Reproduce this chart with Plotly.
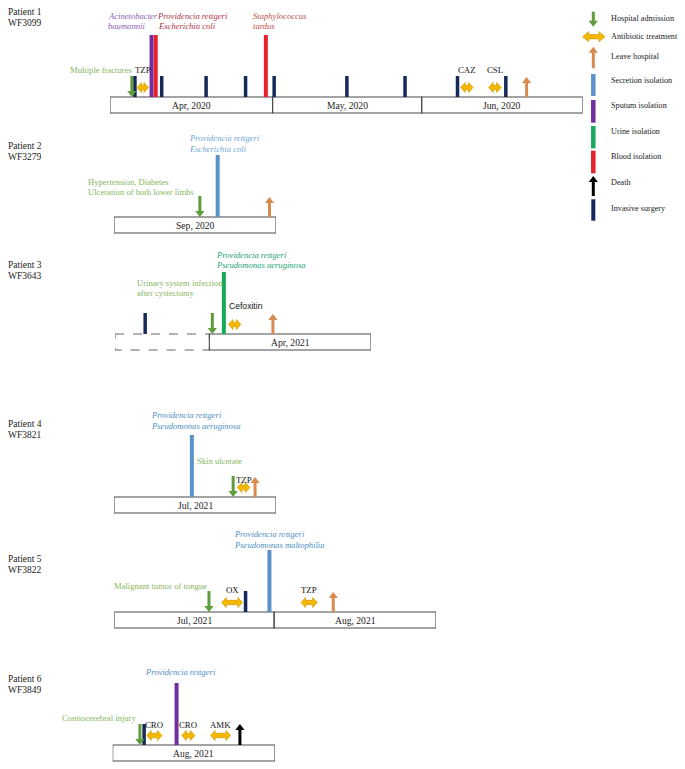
import plotly.graph_objects as go

W, H = 685, 769

# ---------------- data (days counted from the start of each patient's first solid month box) ----------------
patient_names = ["Patient 1", "Patient 2", "Patient 3", "Patient 4", "Patient 5", "Patient 6"]
patient_ids = ["WF3099", "WF3279", "WF3643", "WF3821", "WF3822", "WF3849"]

p1_months = ["Apr, 2020", "May, 2020", "Jun, 2020"]
p1_edges = [0, 31.3, 60.0, 91]
p1_admission = [4.2]
p1_leave = [80.2]
p1_death = []
p1_secretion = []
p1_sputum = [8.0]
p1_urine = []
p1_blood = [8.8, 30.0]
p1_surgery = [4.8, 9.95, 18.5, 26.1, 31.6, 45.6, 56.8, 66.9, 76.2]
p1_abx = ["TZP", "CAZ", "CSL"]
p1_abx_start = [5.2, 67.5, 72.9]
p1_abx_end = [7.4, 69.9, 75.3]

p2_months = ["Sep, 2020"]
p2_edges = [0, 30]
p2_admission = [15.9]
p2_leave = [28.8]
p2_death = []
p2_secretion = [19.2]
p2_sputum = []
p2_urine = []
p2_blood = []
p2_surgery = []
p2_abx = []
p2_abx_start = []
p2_abx_end = []

p3_months = ["", "Apr, 2021"]          # first box (dashed) = period before admission month
p3_edges = [-17.5, 0, 30]
p3_admission = [0.56]
p3_leave = [11.8]
p3_death = []
p3_secretion = []
p3_sputum = []
p3_urine = [2.7]
p3_blood = []
p3_surgery = [-11.9]
p3_abx = ["Cefoxitin"]
p3_abx_start = [3.55]
p3_abx_end = [5.85]

p4_months = ["Jul, 2021"]
p4_edges = [0, 31]
p4_admission = [22.8]
p4_leave = [27.0]
p4_death = []
p4_secretion = [14.9]
p4_sputum = []
p4_urine = []
p4_blood = []
p4_surgery = []
p4_abx = ["TZP"]
p4_abx_start = [23.6]
p4_abx_end = [26.0]

p5_months = ["Jul, 2021", "Aug, 2021"]
p5_edges = [0, 30.8, 62]
p5_admission = [18.25]
p5_leave = [42.2]
p5_death = []
p5_secretion = [29.9]
p5_sputum = []
p5_urine = []
p5_blood = []
p5_surgery = [25.3]
p5_abx = ["OX", "TZP"]
p5_abx_start = [20.7, 36.0]
p5_abx_end = [24.7, 39.1]

p6_months = ["Aug, 2021"]
p6_edges = [0, 31]
p6_admission = [5.2]
p6_leave = []
p6_death = [24.3]
p6_secretion = []
p6_sputum = [12.2]
p6_urine = []
p6_blood = []
p6_surgery = [6.0]
p6_abx = ["CRO", "CRO", "AMK"]
p6_abx_start = [6.5, 13.2, 18.7]
p6_abx_end = [9.4, 15.7, 22.5]

legend_labels = ["Hospital admission", "Antibiotic treatment", "Leave hospital", "Secretion isolation",
                 "Sputum isolation", "Urine isolation", "Blood isolation", "Death", "Invasive surgery"]

# ---------------- styles ----------------
C_ADM = "#5E9C3C"
C_ABX = "#F4B800"
C_ABX_EDGE = "#D49A00"
C_LEAVE = "#D88A50"
C_SEC = "#5B93C9"
C_SPU = "#7030A0"
C_URI = "#18A85A"
C_BLOOD = "#E8202A"
C_DEATH = "#000000"
C_SURG = "#14285A"
C_DIS = "#86B65E"
SERIF = "Liberation Serif"
SANS = "Liberation Sans"
BOX_H = 16
TALL = 62
SHORT = 21

rows = [
    dict(top=97, px=(110, 582.7), months=p1_months, edges=p1_edges, adm=p1_admission, leave=p1_leave, death=p1_death,
         sec=p1_secretion, spu=p1_sputum, uri=p1_urine, blood=p1_blood, surg=p1_surgery,
         abx=p1_abx, abx_s=p1_abx_start, abx_e=p1_abx_end, abx_dy=27, label_y=12),
    dict(top=217, px=(114, 276), months=p2_months, edges=p2_edges, adm=p2_admission, leave=p2_leave, death=p2_death,
         sec=p2_secretion, spu=p2_sputum, uri=p2_urine, blood=p2_blood, surg=p2_surgery,
         abx=p2_abx, abx_s=p2_abx_start, abx_e=p2_abx_end, abx_dy=20, label_y=146),
    dict(top=334, px=(115, 371), months=p3_months, edges=p3_edges, adm=p3_admission, leave=p3_leave, death=p3_death,
         sec=p3_secretion, spu=p3_sputum, uri=p3_urine, blood=p3_blood, surg=p3_surgery,
         abx=p3_abx, abx_s=p3_abx_start, abx_e=p3_abx_end, abx_dy=28, label_y=265, dashed_first=True),
    dict(top=497, px=(114, 276), months=p4_months, edges=p4_edges, adm=p4_admission, leave=p4_leave, death=p4_death,
         sec=p4_secretion, spu=p4_sputum, uri=p4_urine, blood=p4_blood, surg=p4_surgery,
         abx=p4_abx, abx_s=p4_abx_start, abx_e=p4_abx_end, abx_dy=17, label_y=424),
    dict(top=612, px=(114.3, 436), months=p5_months, edges=p5_edges, adm=p5_admission, leave=p5_leave, death=p5_death,
         sec=p5_secretion, spu=p5_sputum, uri=p5_urine, blood=p5_blood, surg=p5_surgery,
         abx=p5_abx, abx_s=p5_abx_start, abx_e=p5_abx_end, abx_dy=22, label_y=559),
    dict(top=745, px=(112.7, 275), months=p6_months, edges=p6_edges, adm=p6_admission, leave=p6_leave, death=p6_death,
         sec=p6_secretion, spu=p6_sputum, uri=p6_urine, blood=p6_blood, surg=p6_surgery,
         abx=p6_abx, abx_s=p6_abx_start, abx_e=p6_abx_end, abx_dy=20, label_y=679),
]

fig = go.Figure()
annotations = []


def add_line(xa, xs, ys, color, width):
    fig.add_trace(go.Scatter(x=xs, y=ys, xaxis=xa, yaxis="y", mode="lines", cliponaxis=False,
                             line=dict(color=color, width=width), hoverinfo="skip", showlegend=False))


def add_marker(xa, xs, ys, symbol, size, color):
    fig.add_trace(go.Scatter(x=xs, y=ys, xaxis=xa, yaxis="y", mode="markers", cliponaxis=False,
                             marker=dict(symbol=symbol, size=size, color=color, line=dict(width=0)),
                             hoverinfo="skip", showlegend=False))


def vbars(xa, days, y_top, y_bot, color, width):
    if not days:
        return
    xs, ys = [], []
    for d in days:
        xs += [d, d, None]
        ys += [y_top, y_bot, None]
    add_line(xa, xs, ys, color, width)


def down_arrows(xa, days, tip_y, length, color):
    if not days:
        return
    vbars(xa, days, tip_y - length, tip_y - 5, color, 3)
    add_marker(xa, days, [tip_y - 4] * len(days), "triangle-down", 8, color)


def up_arrows(xa, days, base_y, length, color):
    if not days:
        return
    vbars(xa, days, base_y - length + 5, base_y, color, 3)
    add_marker(xa, days, [base_y - length + 4] * len(days), "triangle-up", 8, color)


def dbl_arrow(xref, s, e, y, k, head_px=4.5, half_h=5.0, half_shaft=2.2):
    """Double-headed arrow drawn as a filled path in the axis' own units (x = days, y = px)."""
    hw = min(head_px / k, (e - s) / 2)
    a, b = s + hw, e - hw
    pts = [(s, y), (a, y - half_h), (a, y - half_shaft), (b, y - half_shaft), (b, y - half_h), (e, y),
           (b, y + half_h), (b, y + half_shaft), (a, y + half_shaft), (a, y + half_h)]
    path = "M " + " L ".join(f"{px:.4f},{py:.2f}" for px, py in pts) + " Z"
    fig.add_shape(type="path", xref=xref, yref="y", path=path, fillcolor=C_ABX,
                  line=dict(color=C_ABX_EDGE, width=0.7), layer="above")


def text(t, x, y, size=8.6, color="#222", anchor="left", family=SERIF, xref="x"):
    annotations.append(dict(text=t, x=x, y=y, xref=xref, yref="y", showarrow=False,
                            xanchor=anchor, yanchor="middle", borderpad=0,
                            font=dict(family=family, size=size, color=color)))


axes = {}
for i, r in enumerate(rows):
    n = i + 2
    xa = f"x{n}"
    px0, px1 = r["px"]
    e = r["edges"]
    axes[f"xaxis{n}"] = dict(domain=[px0 / W, px1 / W], range=[e[0], e[-1]], visible=False,
                             anchor="y", fixedrange=True)
    k = (px1 - px0) / (e[-1] - e[0])
    top = r["top"]

    # month boxes
    for j, lab in enumerate(r["months"]):
        dashed = r.get("dashed_first", False) and j == 0
        fig.add_shape(type="rect", xref=xa, yref="y", x0=e[j], x1=e[j + 1], y0=top, y1=top + BOX_H,
                      line=dict(color="#666" if dashed else "#4a4a4a", width=1.1, dash="dash" if dashed else "solid"),
                      fillcolor="rgba(0,0,0,0)", layer="below")
        if lab:
            text(lab, (e[j] + e[j + 1]) / 2, top + BOX_H / 2 + 0.5, size=9.6, anchor="center", xref=xa)

    # events
    vbars(xa, r["sec"], top - TALL, top, C_SEC, 4)
    vbars(xa, r["spu"], top - TALL, top, C_SPU, 4)
    vbars(xa, r["uri"], top - TALL, top, C_URI, 4)
    vbars(xa, r["blood"], top - TALL, top, C_BLOOD, 4)
    vbars(xa, r["surg"], top - SHORT, top, C_SURG, 3.5)
    down_arrows(xa, r["adm"], top, SHORT, C_ADM)
    up_arrows(xa, r["leave"], top, SHORT - 1, C_LEAVE)
    up_arrows(xa, r["death"], top, SHORT, C_DEATH)
    for name, s, en in zip(r["abx"], r["abx_s"], r["abx_e"]):
        dbl_arrow(xa, s, en, top - 9.5, k)
        if name == "Cefoxitin":
            text(name, s, top - r["abx_dy"], size=8.6, anchor="left", family=SANS, color="#111", xref=xa)
        else:
            text(name, (s + en) / 2, top - r["abx_dy"], size=8.8, anchor="center", color="#111", xref=xa)

    # patient labels
    text(patient_names[i], 7, r["label_y"], size=9.5)
    text(patient_ids[i], 7, r["label_y"] + 10.5, size=9.5)

# species / diagnosis labels (placed in pixel coordinates)
PUR_T = "#8A5CB4"
RED_T = "#B3323F"
RED2_T = "#C0504D"
BLUE_T = "#4E8EC4"
BLUE2_T = "#72A6D4"
TEAL_T = "#22A374"

text("<i>Acinetobacter</i>", 107, 15.7, color=PUR_T)
text("<i>baumannii</i>", 107, 25.5, color=PUR_T)
text("<i>Providencia rettgeri</i>", 156, 15.7, color=RED_T)
text("<i>Escherichia coli</i>", 157, 25.5, color=RED_T)
text("<i>Staphylococcus</i>", 252, 15.7, color=RED2_T)
text("<i>tardus</i>", 252, 25.5, color=RED2_T)
text("Multiple fractures", 133, 70, color=C_DIS, anchor="right")

text("<i>Providencia rettgeri</i>", 188, 138, color=BLUE2_T)
text("<i>Escherichia coli</i>", 188, 149, color=BLUE2_T)
text("Hypertension, Diabetes", 87, 181.5, color=C_DIS)
text("Ulceration of both lower limbs", 87, 191.5, color=C_DIS)

text("<i>Providencia rettgeri</i>", 215, 254.5, color=TEAL_T)
text("<i>Pseudomonas aeruginosa</i>", 215, 265, color=TEAL_T)
text("Urinary system infection", 135.5, 282.5, color=C_DIS)
text("after cystectomy", 135.5, 292.5, color=C_DIS)

text("<i>Providencia rettgeri</i>", 150, 415, color=BLUE_T)
text("<i>Pseudomonas aeruginosa</i>", 150, 426, color=BLUE_T)
text("Skin ulcerate", 195.5, 460.5, color=C_DIS)

text("<i>Providencia rettgeri</i>", 233, 534, color=BLUE_T)
text("<i>Pseudomonas maltophilia</i>", 233, 544.5, color=BLUE_T)
text("Malignant tumor of tongue", 113, 586, color=C_DIS)

text("<i>Providencia rettgeri</i>", 144, 671.5, color=BLUE_T)
text("Craniocerebral injury", 61, 717.5, color=C_DIS)

# ---------------- legend (right side, pixel coordinates) ----------------
LX = 593.3
leg_y = [18, 36.7, 56.7, 80, 105, 131, 156, 182.7, 208.3]
down_arrows("x", [LX], 26.7, 15, C_ADM)
dbl_arrow("x", 582.7, 605, 36.7, 1.0, head_px=6)
up_arrows("x", [LX], 68.3, 21.6, C_LEAVE)
vbars("x", [LX], 74, 96, C_SEC, 4.5)
vbars("x", [LX], 100, 122.7, C_SPU, 4.5)
vbars("x", [LX], 126, 148.3, C_URI, 4.5)
vbars("x", [LX], 150.7, 173.3, C_BLOOD, 4.5)
up_arrows("x", [LX], 196, 20, C_DEATH)
vbars("x", [LX], 199.3, 220.7, C_SURG, 4)
for lab, yy in zip(legend_labels, leg_y):
    text(lab, 610, yy, size=8.2, color="#222")

fig.update_layout(
    width=W, height=H, autosize=False,
    margin=dict(l=0, r=0, t=0, b=0),
    paper_bgcolor="white", plot_bgcolor="rgba(0,0,0,0)",
    showlegend=False,
    xaxis=dict(domain=[0, 1], range=[0, W], visible=False, fixedrange=True),
    yaxis=dict(domain=[0, 1], range=[H, 0], visible=False, fixedrange=True),
    annotations=annotations,
    **axes,
)

fig.write_html("out.html", config={"displayModeBar": False},
               post_script="document.body.style.margin='0';document.body.style.padding='0';")
